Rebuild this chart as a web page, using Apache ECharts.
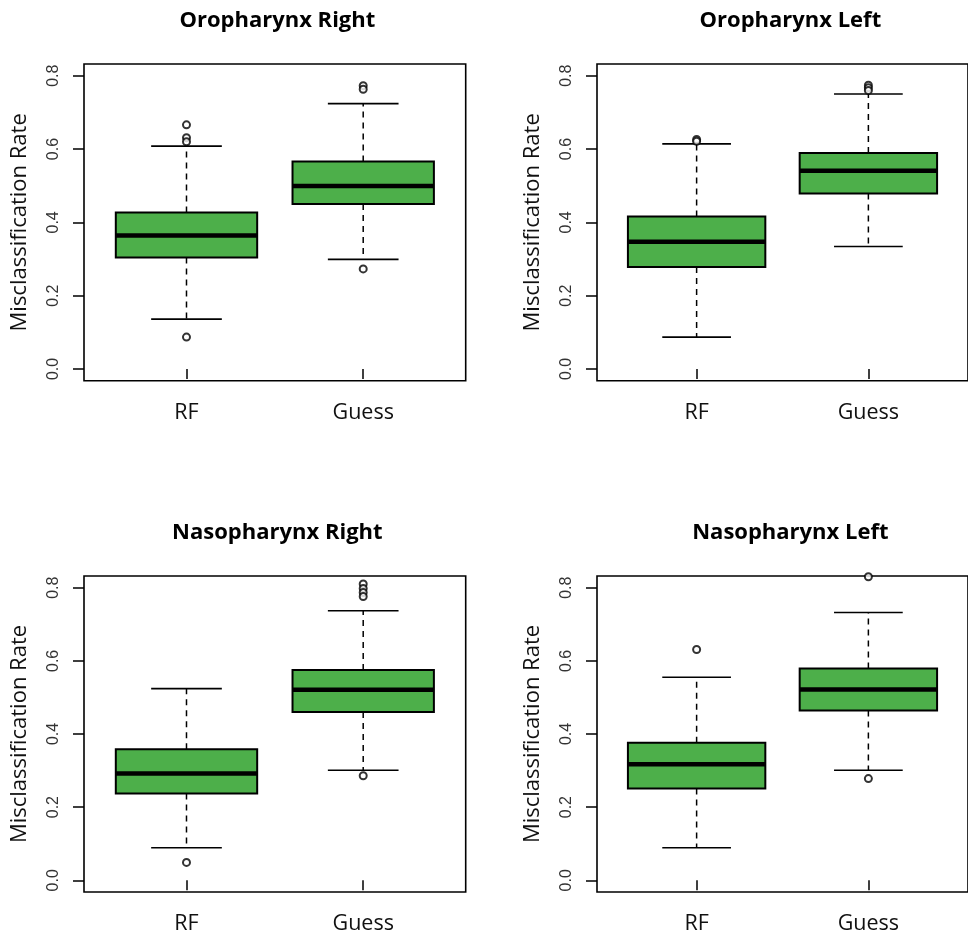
<!DOCTYPE html>
<html><head><meta charset="utf-8">
<script src="https://cdn.jsdelivr.net/npm/echarts@6/dist/echarts.min.js"></script>
<style>html,body{margin:0;padding:0;background:#fff}#c{width:968px;height:935px}</style>
</head><body><div id="c"></div>
<script>
// ---- data ----
const categories = ['RF', 'Guess'];
const panelTitles = ['Oropharynx Right', 'Oropharynx Left', 'Nasopharynx Right', 'Nasopharynx Left'];
const yTickValues = [0, 0.2, 0.4, 0.6, 0.8];
const yAxisTitle = 'Misclassification Rate';
// box stats per category: [lower whisker, Q1, median, Q3, upper whisker]
const statsOroRight  = [[0.136, 0.304, 0.364, 0.427, 0.608], [0.299, 0.450, 0.499, 0.566, 0.724]];
const statsOroLeft   = [[0.087, 0.278, 0.347, 0.416, 0.614], [0.334, 0.479, 0.541, 0.589, 0.750]];
const statsNasoRight = [[0.089, 0.237, 0.292, 0.358, 0.524], [0.301, 0.460, 0.521, 0.575, 0.737]];
const statsNasoLeft  = [[0.089, 0.251, 0.317, 0.376, 0.555], [0.301, 0.464, 0.522, 0.579, 0.732]];
// outliers per category
const outOroRight  = [[0.666, 0.631, 0.620, 0.087], [0.773, 0.763, 0.273]];
const outOroLeft   = [[0.626, 0.621], [0.774, 0.767, 0.760]];
const outNasoRight = [[0.049], [0.810, 0.798, 0.787, 0.776, 0.286]];
const outNasoLeft  = [[0.631], [0.830, 0.278]];

const panelStats = [statsOroRight, statsOroLeft, statsNasoRight, statsNasoLeft];
const panelOutliers = [outOroRight, outOroLeft, outNasoRight, outNasoLeft];

// ---- layout ----
const frames = [
  {left: 84,  top: 64,  width: 381.7, height: 316.7},
  {left: 597, top: 64,  width: 381.7, height: 316.7},
  {left: 84,  top: 576, width: 381.7, height: 317.8},
  {left: 597, top: 576, width: 381.7, height: 317.8}
];
const titleY = [21, 21, 533, 533];
const GREEN = '#4DAF4A';

function renderBox(params, api) {
  const x = api.value(0);
  const lo = api.value(1), q1 = api.value(2), med = api.value(3), q3 = api.value(4), hi = api.value(5);
  const cx = api.coord([x, med])[0];
  const yLo = api.coord([x, lo])[1], yQ1 = api.coord([x, q1])[1], yMed = api.coord([x, med])[1];
  const yQ3 = api.coord([x, q3])[1], yHi = api.coord([x, hi])[1];
  const halfW = api.size([0.8, 0])[0] / 2;
  const capW = halfW / 2;
  const dash = {stroke: '#000', lineWidth: 1.5, lineDash: [6, 5]};
  const solid = {stroke: '#000', lineWidth: 1.6};
  return {type: 'group', children: [
    {type: 'line', shape: {x1: cx, y1: yQ1, x2: cx, y2: yLo}, style: dash},
    {type: 'line', shape: {x1: cx, y1: yQ3, x2: cx, y2: yHi}, style: dash},
    {type: 'line', shape: {x1: cx - capW, y1: yLo, x2: cx + capW, y2: yLo}, style: solid},
    {type: 'line', shape: {x1: cx - capW, y1: yHi, x2: cx + capW, y2: yHi}, style: solid},
    {type: 'rect', shape: {x: cx - halfW, y: yQ3, width: 2 * halfW, height: yQ1 - yQ3},
      style: {fill: GREEN, stroke: '#000', lineWidth: 2}},
    {type: 'line', shape: {x1: cx - halfW, y1: yMed, x2: cx + halfW, y2: yMed},
      style: {stroke: '#000', lineWidth: 4.5}}
  ]};
}

const grid = [], xAxis = [], yAxis = [], series = [], graphic = [];
frames.forEach((f, i) => {
  grid.push({left: f.left, top: f.top, width: f.width, height: f.height, show: true,
    borderColor: '#000', borderWidth: 1.6, backgroundColor: 'transparent'});
  xAxis.push({type: 'value', gridIndex: i, min: 0.42, max: 2.58,
    axisLine: {show: false}, splitLine: {show: false},
    axisTick: {show: true, customValues: [1, 2], length: 10, lineStyle: {color: '#000', width: 1.5}},
    axisLabel: {show: true, customValues: [1, 2], formatter: v => categories[Math.round(v) - 1] || '',
      fontSize: 21.5, fontFamily: 'Open Sans', color: '#111', margin: 21}});
  yAxis.push({type: 'value', gridIndex: i, min: -0.032, max: 0.832,
    axisLine: {show: false}, splitLine: {show: false},
    axisTick: {show: true, customValues: yTickValues, length: 11, lineStyle: {color: '#000', width: 1.5}},
    axisLabel: {show: true, customValues: yTickValues, rotate: 90, formatter: v => v.toFixed(1),
      fontSize: 16, fontFamily: 'Liberation Sans', color: '#333', margin: 22},
    name: yAxisTitle, nameLocation: 'middle', nameRotate: 90, nameGap: 53,
    nameTextStyle: {fontSize: 22, fontFamily: 'Open Sans', color: '#111'}});
  const st = panelStats[i];
  series.push({type: 'custom', xAxisIndex: i, yAxisIndex: i, renderItem: renderBox,
    encode: {x: 0, y: [1, 2, 3, 4, 5]},
    data: categories.map((c, k) => [k + 1].concat(st[k])), z: 2, silent: true});
  const out = panelOutliers[i];
  const pts = [];
  categories.forEach((c, k) => out[k].forEach(v => pts.push([k + 1, v])));
  series.push({type: 'scatter', xAxisIndex: i, yAxisIndex: i, data: pts, symbol: 'emptyCircle',
    symbolSize: 7, clip: true, z: 3, silent: true,
    itemStyle: {color: '#000', borderColor: '#000', borderWidth: 1.6}});
  graphic.push({type: 'text', x: f.left + f.width / 2 + 2.5, y: titleY[i],
    style: {text: panelTitles[i], fontSize: 22, fontWeight: 'bold', fontFamily: 'Open Sans',
      fill: '#000', align: 'center', verticalAlign: 'middle'}});
});

const chart = echarts.init(document.getElementById('c'), null, {renderer: 'canvas'});
chart.setOption({animation: false, backgroundColor: '#fff', grid, xAxis, yAxis, series, graphic});
</script>
</body></html>
